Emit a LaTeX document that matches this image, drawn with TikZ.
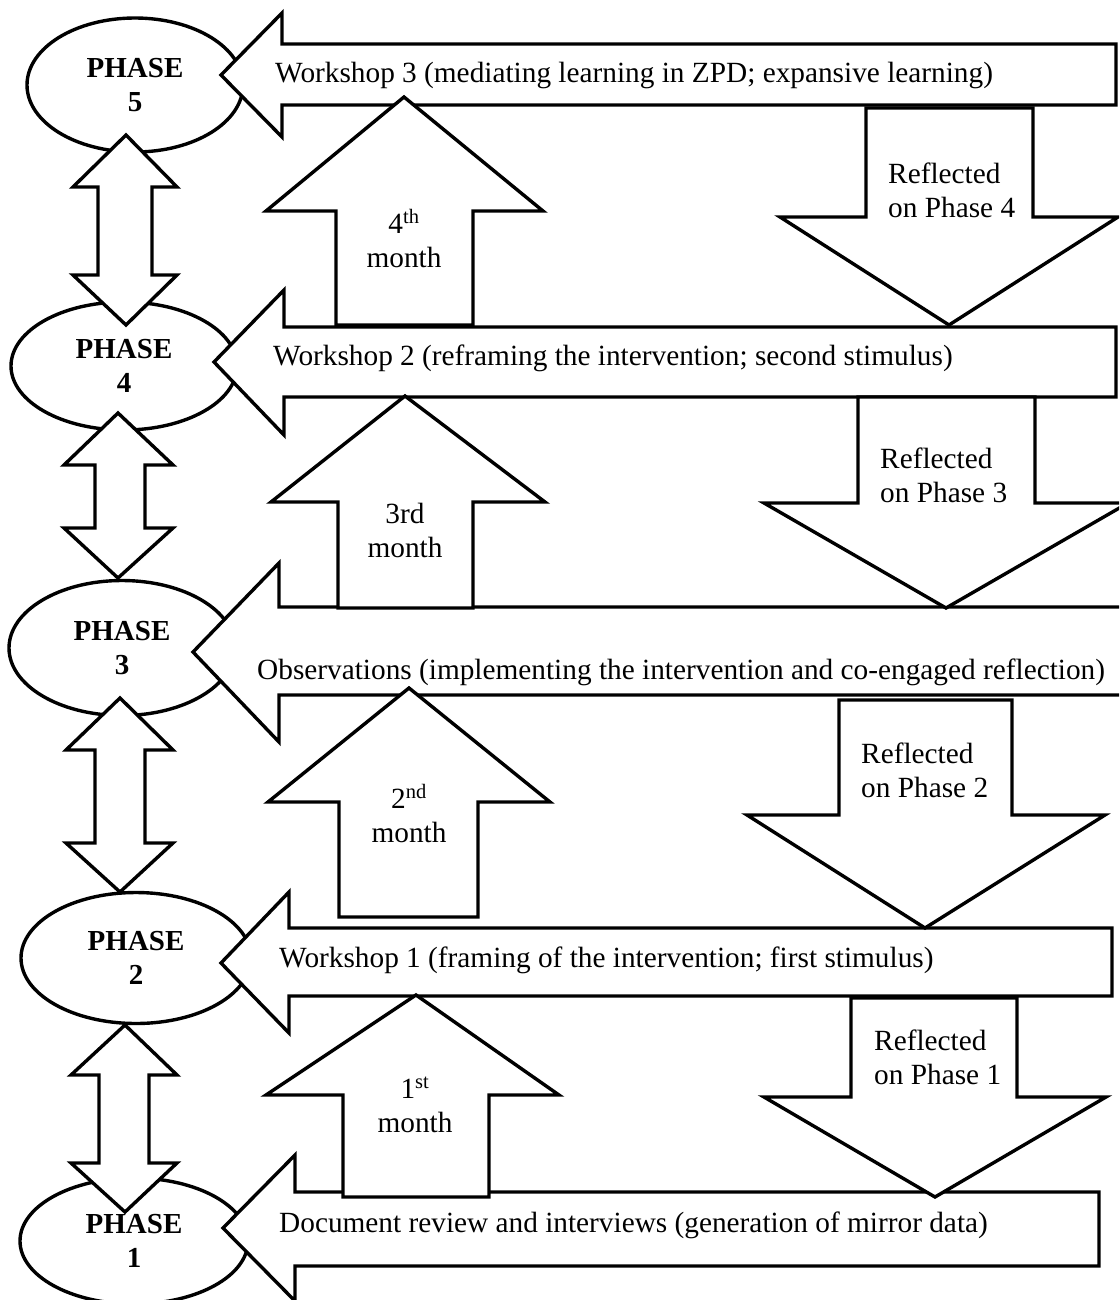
\documentclass[tikz,border=0pt]{standalone}
\usepackage{fontspec}
\setmainfont{Liberation Serif}
\usetikzlibrary{shapes.geometric}
% two stacked lines whose first baseline is the node's baseline
\newcommand{\linepair}[3]{\begin{tabular}[t]{@{}#1@{}}#2\\#3\end{tabular}}
% ordinal suffix that does not change the line height
\newcommand{\ordsuf}[1]{\smash{\textsuperscript{#1}}}
\begin{document}
\begin{tikzpicture}[x=1pt,y=-1pt,
  outlined/.style={draw=black, fill=white, line width=3.4pt, line join=miter},
  phasebox/.style={outlined, ellipse, inner sep=0pt, align=center,
    font=\fontsize{29}{34}\selectfont\bfseries},
  txt/.style={inner sep=0pt, font=\fontsize{29.3}{34}\selectfont},
]
\useasboundingbox (0,0) rectangle (1119,1300);
\clip (0,0) rectangle (1119,1300);

% phases
\node[phasebox, minimum width=216pt, minimum height=134pt] (p5) at (135,85) {PHASE\\5};
\node[phasebox, minimum width=226pt, minimum height=128pt] (p4) at (124,366) {PHASE\\4};
\node[phasebox, minimum width=226pt, minimum height=135pt] (p3) at (122,648) {PHASE\\3};
\node[phasebox, minimum width=230pt, minimum height=131pt] (p2) at (136,958) {PHASE\\2};
\node[phasebox, minimum width=228pt, minimum height=126pt] (p1) at (134,1241) {PHASE\\1};

% activity arrows pointing to each phase
\draw[outlined] (1116,44) -- (282,44) -- (282,13) -- (221,75) -- (282,137) -- (282,105) -- (1116,105) -- cycle;
\draw[outlined] (1116,327) -- (284,327) -- (284,290) -- (214,362) -- (284,435) -- (284,397) -- (1116,397) -- cycle;
\draw[outlined] (1140,607) -- (279,607) -- (279,563) -- (193,652) -- (279,742) -- (279,695) -- (1140,695) -- cycle;
\draw[outlined] (1112,928) -- (289,928) -- (289,892) -- (221,963) -- (289,1033) -- (289,996) -- (1112,996) -- cycle;
\draw[outlined] (1099,1192) -- (295,1192) -- (295,1155) -- (223,1228) -- (295,1301) -- (295,1266) -- (1099,1266) -- cycle;

% two-way arrows between consecutive phases
\draw[outlined] (126,135) -- (177,187) -- (152,187) -- (152,275) -- (177,275) -- (126,325) -- (73,275) -- (98,275) -- (98,187) -- (73,187) -- cycle;
\draw[outlined] (118,413) -- (173,465) -- (145,465) -- (145,528) -- (173,528) -- (118,578) -- (64,528) -- (95,528) -- (95,465) -- (64,465) -- cycle;
\draw[outlined] (120,698) -- (173,750) -- (145,750) -- (145,843) -- (173,843) -- (120,892) -- (66,843) -- (95,843) -- (95,750) -- (66,750) -- cycle;
\draw[outlined] (125,1025) -- (177,1075) -- (149,1075) -- (149,1163) -- (177,1163) -- (125,1212) -- (71,1163) -- (99,1163) -- (99,1075) -- (71,1075) -- cycle;

% month arrows (upwards)
\draw[outlined] (404,97) -- (543,211) -- (473,211) -- (473,325) -- (336,325) -- (336,211) -- (266,211) -- cycle;
\draw[outlined] (405,396) -- (545,502) -- (473,502) -- (473,608) -- (338,608) -- (338,502) -- (271,502) -- cycle;
\draw[outlined] (409,688) -- (550,802) -- (478,802) -- (478,917) -- (339,917) -- (339,802) -- (268,802) -- cycle;
\draw[outlined] (416,995) -- (559,1095) -- (489,1095) -- (489,1197) -- (343,1197) -- (343,1095) -- (266,1095) -- cycle;

% reflection arrows (downwards)
\draw[outlined] (866,108) -- (1033,108) -- (1033,217) -- (1118,217) -- (949,325) -- (780,217) -- (866,217) -- cycle;
\draw[outlined] (858,397) -- (1035,397) -- (1035,503) -- (1128,503) -- (946,608) -- (764,503) -- (858,503) -- cycle;
\draw[outlined] (839,700) -- (1012,700) -- (1012,815) -- (1105,815) -- (925,928) -- (747,815) -- (839,815) -- cycle;
\draw[outlined] (851,998) -- (1017,998) -- (1017,1097) -- (1106,1097) -- (935,1197) -- (764,1097) -- (851,1097) -- cycle;

% activity labels
\node[txt, anchor=base west] (w3) at (275,83) {Workshop 3 (mediating learning in ZPD; expansive learning)};
\node[txt, anchor=base west] (w2) at (273,365) {Workshop 2 (reframing the intervention; second stimulus)};
\node[txt, anchor=base west] (obs) at (257,679) {Observations (implementing the intervention and co-engaged reflection)};
\node[txt, anchor=base west] (w1) at (279,967) {Workshop 1 (framing of the intervention; first stimulus)};
\node[txt, anchor=base west] (doc) at (279,1232) {Document review and interviews (generation of mirror data)};

% month labels
\node[txt, anchor=base] (m4) at (404,233) {\linepair{c}{4\ordsuf{th}}{month}};
\node[txt, anchor=base] (m3) at (405,523) {\linepair{c}{3rd}{month}};
\node[txt, anchor=base] (m2) at (409,808) {\linepair{c}{2\ordsuf{nd}}{month}};
\node[txt, anchor=base] (m1) at (415,1098) {\linepair{c}{1\ordsuf{st}}{month}};

% reflection labels
\node[txt, anchor=base west] (r4) at (888,183) {\linepair{l}{Reflected}{on Phase 4}};
\node[txt, anchor=base west] (r3) at (880,468) {\linepair{l}{Reflected}{on Phase 3}};
\node[txt, anchor=base west] (r2) at (861,763) {\linepair{l}{Reflected}{on Phase 2}};
\node[txt, anchor=base west] (r1) at (874,1050) {\linepair{l}{Reflected}{on Phase 1}};
\end{tikzpicture}
\end{document}
